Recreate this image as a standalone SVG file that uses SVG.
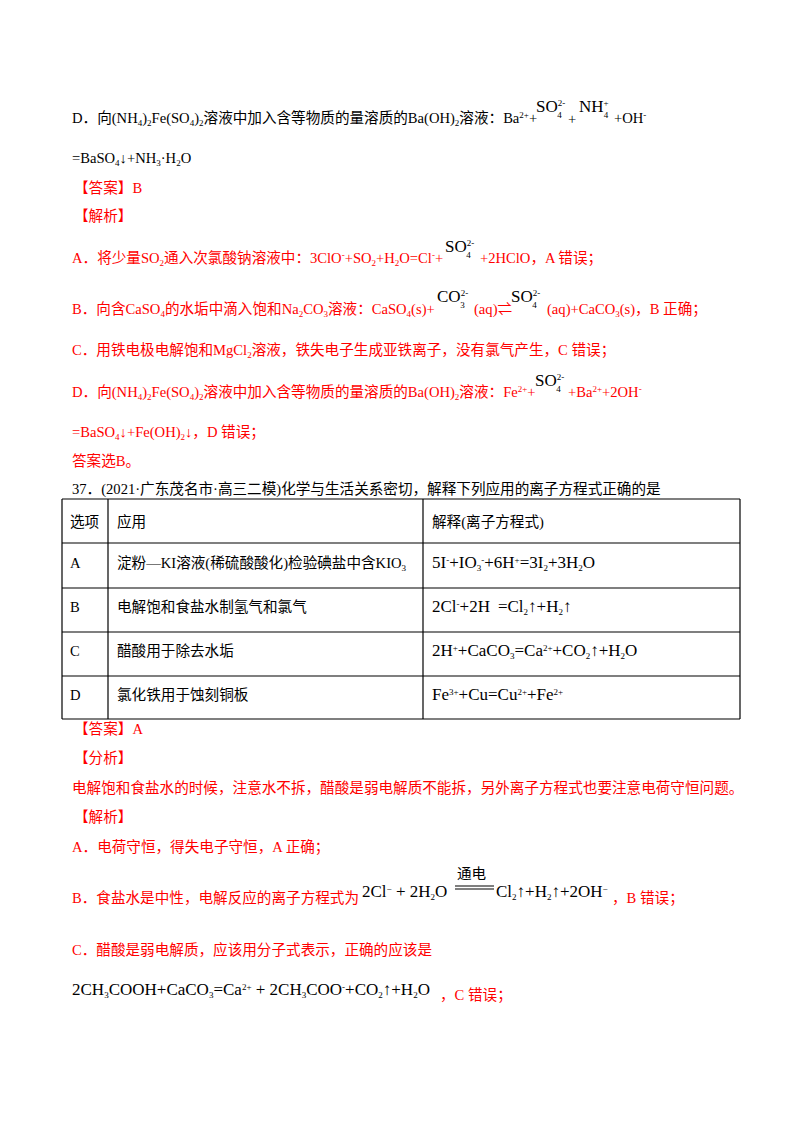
<svg xmlns="http://www.w3.org/2000/svg" width="800" height="1132" viewBox="0 0 800 1132">
<style>
text{font-family:"Liberation Serif","Noto Sans CJK SC",serif;font-size:14.6px;fill:#000}
.r{fill:#f00}
.s{font-size:9px}
.big{font-size:17px}
line{stroke:#000;stroke-width:1.2}
</style>
<rect width="800" height="1132" fill="#fff"/>
<text x="72" y="123">D．向(NH<tspan class="s" dy="3">4</tspan><tspan dy="-3">)</tspan><tspan class="s" dy="3">2</tspan><tspan dy="-3">Fe(SO</tspan><tspan class="s" dy="3">4</tspan><tspan dy="-3">)</tspan><tspan class="s" dy="3">2</tspan><tspan dy="-3">溶液中加入含等物质的量溶质的Ba(OH)</tspan><tspan class="s" dy="3">2</tspan><tspan dy="-3">溶液：Ba</tspan><tspan class="s" dy="-5">2+</tspan><tspan dy="5">+</tspan></text>
<text x="536" y="112" class="big">SO<tspan class="s" dy="-6">2-</tspan><tspan class="s" dx="-8" dy="12">4</tspan></text>
<text x="568" y="124">+</text>
<text x="579" y="112" class="big">NH<tspan class="s" dy="-6">+</tspan><tspan class="s" dx="-5" dy="12">4</tspan></text>
<text x="614" y="123">+OH<tspan class="s" dy="-5">-</tspan></text>
<text x="72" y="163">=BaSO<tspan class="s" dy="3">4</tspan><tspan dy="-3">↓+NH</tspan><tspan class="s" dy="3">3</tspan><tspan dy="-3">·H</tspan><tspan class="s" dy="3">2</tspan><tspan dy="-3">O</tspan></text>
<text x="74" y="193" class="r">【答案】B</text>
<text x="74" y="221" class="r">【解析】</text>
<text x="72" y="263" class="r">A．将少量SO<tspan class="s" dy="3">2</tspan><tspan dy="-3">通入次氯酸钠溶液中：3ClO</tspan><tspan class="s" dy="-5">-</tspan><tspan dy="5">+SO</tspan><tspan class="s" dy="3">2</tspan><tspan dy="-3">+H</tspan><tspan class="s" dy="3">2</tspan><tspan dy="-3">O=Cl</tspan><tspan class="s" dy="-5">-</tspan><tspan dy="5">+</tspan></text>
<text x="445" y="252" class="big">SO<tspan class="s" dy="-6">2-</tspan><tspan class="s" dx="-8" dy="12">4</tspan></text>
<text x="480" y="263" class="r">+2HClO，A 错误；</text>
<text x="72" y="314" class="r">B．向含CaSO<tspan class="s" dy="3">4</tspan><tspan dy="-3">的水垢中滴入饱和Na</tspan><tspan class="s" dy="3">2</tspan><tspan dy="-3">CO</tspan><tspan class="s" dy="3">3</tspan><tspan dy="-3">溶液：CaSO</tspan><tspan class="s" dy="3">4</tspan><tspan dy="-3">(s)+</tspan></text>
<text x="437" y="302" class="big">CO<tspan class="s" dy="-6">2-</tspan><tspan class="s" dx="-8" dy="12">3</tspan></text>
<text x="474" y="314" class="r">(aq)⇌</text>
<text x="511" y="302" class="big">SO<tspan class="s" dy="-6">2-</tspan><tspan class="s" dx="-8" dy="12">4</tspan></text>
<text x="547" y="314" class="r">(aq)+CaCO<tspan class="s" dy="3">3</tspan><tspan dy="-3">(s)，B 正确；</tspan></text>
<text x="72" y="355" class="r">C．用铁电极电解饱和MgCl<tspan class="s" dy="3">2</tspan><tspan dy="-3">溶液，铁失电子生成亚铁离子，没有氯气产生，C 错误；</tspan></text>
<text x="72" y="397" class="r">D．向(NH<tspan class="s" dy="3">4</tspan><tspan dy="-3">)</tspan><tspan class="s" dy="3">2</tspan><tspan dy="-3">Fe(SO</tspan><tspan class="s" dy="3">4</tspan><tspan dy="-3">)</tspan><tspan class="s" dy="3">2</tspan><tspan dy="-3">溶液中加入含等物质的量溶质的Ba(OH)</tspan><tspan class="s" dy="3">2</tspan><tspan dy="-3">溶液：Fe</tspan><tspan class="s" dy="-5">2+</tspan><tspan dy="5">+</tspan></text>
<text x="535" y="386" class="big">SO<tspan class="s" dy="-6">2-</tspan><tspan class="s" dx="-8" dy="12">4</tspan></text>
<text x="568" y="397" class="r">+Ba<tspan class="s" dy="-5">2+</tspan><tspan dy="5">+2OH</tspan><tspan class="s" dy="-5">-</tspan></text>
<text x="72" y="437" class="r">=BaSO<tspan class="s" dy="3">4</tspan><tspan dy="-3">↓+Fe(OH)</tspan><tspan class="s" dy="3">2</tspan><tspan dy="-3">↓，D 错误；</tspan></text>
<text x="72" y="466" class="r">答案选B。</text>
<text x="72" y="494">37．(2021·广东茂名市·高三二模)化学与生活关系密切，解释下列应用的离子方程式正确的是</text>
<g id="table">
<line x1="62" y1="499" x2="740" y2="499"/>
<line x1="62" y1="543" x2="740" y2="543"/>
<line x1="62" y1="588" x2="740" y2="588"/>
<line x1="62" y1="632" x2="740" y2="632"/>
<line x1="62" y1="676" x2="740" y2="676"/>
<line x1="62" y1="719" x2="740" y2="719"/>
<line x1="62" y1="499" x2="62" y2="719"/>
<line x1="108" y1="499" x2="108" y2="719"/>
<line x1="423" y1="499" x2="423" y2="719"/>
<line x1="740" y1="499" x2="740" y2="719"/>
</g>
<text x="70" y="527">选项</text><text x="117" y="527">应用</text><text x="432" y="527">解释(离子方程式)</text>
<text x="70" y="568">A</text><text x="117" y="568">淀粉—KI溶液(稀硫酸酸化)检验碘盐中含KIO<tspan class="s" dy="3">3</tspan></text>
<text x="432" y="568" class="big">5I<tspan class="s" dy="-5">-</tspan><tspan dy="5">+IO</tspan><tspan class="s" dy="3">3</tspan><tspan class="s" dy="-8">-</tspan><tspan dy="5">+6H</tspan><tspan class="s" dy="-5">+</tspan><tspan dy="5">=3I</tspan><tspan class="s" dy="3">2</tspan><tspan dy="-3">+3H</tspan><tspan class="s" dy="3">2</tspan><tspan dy="-3">O</tspan></text>
<text x="70" y="612">B</text><text x="117" y="612">电解饱和食盐水制氢气和氯气</text>
<text x="432" y="612" class="big">2Cl<tspan class="s" dy="-5">-</tspan><tspan dy="5">+2H</tspan><tspan dx="8">=Cl</tspan><tspan class="s" dy="3">2</tspan><tspan dy="-3">↑+H</tspan><tspan class="s" dy="3">2</tspan><tspan dy="-3">↑</tspan></text>
<text x="70" y="656">C</text><text x="117" y="656">醋酸用于除去水垢</text>
<text x="432" y="656" class="big">2H<tspan class="s" dy="-5">+</tspan><tspan dy="5">+CaCO</tspan><tspan class="s" dy="3">3</tspan><tspan dy="-3">=Ca</tspan><tspan class="s" dy="-5">2+</tspan><tspan dy="5">+CO</tspan><tspan class="s" dy="3">2</tspan><tspan dy="-3">↑+H</tspan><tspan class="s" dy="3">2</tspan><tspan dy="-3">O</tspan></text>
<text x="70" y="700">D</text><text x="117" y="700">氯化铁用于蚀刻铜板</text>
<text x="432" y="700" class="big">Fe<tspan class="s" dy="-5">3+</tspan><tspan dy="5">+Cu=Cu</tspan><tspan class="s" dy="-5">2+</tspan><tspan dy="5">+Fe</tspan><tspan class="s" dy="-5">2+</tspan></text>
<text x="74" y="734" class="r">【答案】A</text>
<text x="74" y="763" class="r">【分析】</text>
<text x="72" y="793" class="r">电解饱和食盐水的时候，注意水不拆，醋酸是弱电解质不能拆，另外离子方程式也要注意电荷守恒问题。</text>
<text x="74" y="822" class="r">【解析】</text>
<text x="72" y="852" class="r">A．电荷守恒，得失电子守恒，A 正确；</text>
<text x="72" y="903" class="r">B．食盐水是中性，电解反应的离子方程式为</text>
<text x="362" y="897" class="big">2Cl<tspan class="s" dy="-5">−</tspan><tspan dy="5"> + 2H</tspan><tspan class="s" dy="3">2</tspan><tspan dy="-3">O</tspan></text>
<text x="457" y="879">通电</text>
<line x1="455" y1="886" x2="494" y2="886" stroke-width="0.8"/>
<line x1="455" y1="889" x2="494" y2="889" stroke-width="0.8"/>
<text x="496" y="897" class="big">Cl<tspan class="s" dy="3">2</tspan><tspan dy="-3">↑+H</tspan><tspan class="s" dy="3">2</tspan><tspan dy="-3">↑+2OH</tspan><tspan class="s" dy="-5">−</tspan></text>
<text x="612" y="903" class="r">，B 错误；</text>
<text x="72" y="955" class="r">C．醋酸是弱电解质，应该用分子式表示，正确的应该是</text>
<text x="72" y="995" class="big">2CH<tspan class="s" dy="3">3</tspan><tspan dy="-3">COOH+CaCO</tspan><tspan class="s" dy="3">3</tspan><tspan dy="-3">=Ca</tspan><tspan class="s" dy="-5">2+</tspan><tspan dy="5"> + 2CH</tspan><tspan class="s" dy="3">3</tspan><tspan dy="-3">COO</tspan><tspan class="s" dy="-5">-</tspan><tspan dy="5">+CO</tspan><tspan class="s" dy="3">2</tspan><tspan dy="-3">↑+H</tspan><tspan class="s" dy="3">2</tspan><tspan dy="-3">O</tspan></text>
<text x="440" y="1000" class="r">，C 错误；</text>
</svg>
